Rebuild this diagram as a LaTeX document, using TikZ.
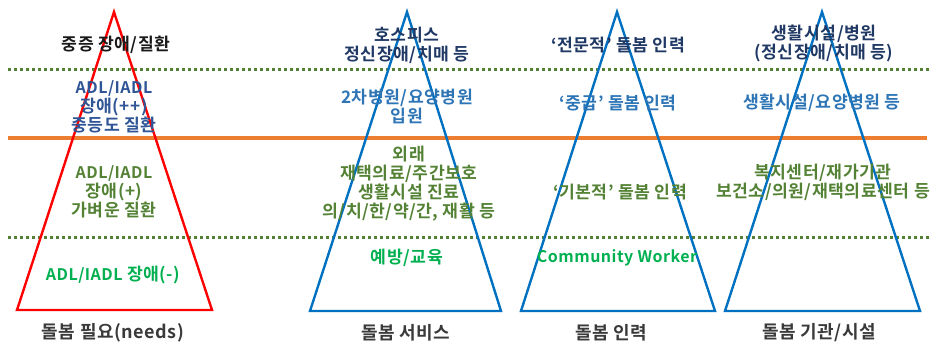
\documentclass[tikz,border=0pt]{standalone}
\usepackage{fontspec}
\setmainfont{Noto Sans CJK KR Bold}[LetterSpace=3]
\definecolor{navy}{HTML}{203864}
\definecolor{midblue}{HTML}{2E75B6}
\definecolor{adlblue}{HTML}{2F5597}
\definecolor{olive}{HTML}{548235}
\definecolor{brgreen}{HTML}{00B050}
\definecolor{tblue}{HTML}{0070C0}
\definecolor{orng}{HTML}{ED7D31}
\definecolor{lbl}{HTML}{3A3A3A}
\newcommand\latn[1]{{\fontsize{16}{19}\selectfont #1}}
\begin{document}
\begin{tikzpicture}[x=1pt,y=-1pt,
  txt/.style={font=\fontsize{17.2}{19}\selectfont, align=center, inner sep=0pt},
  dotline/.style={olive, line width=3pt, dash pattern=on 3pt off 3pt},
  sepline/.style={orng, line width=3.2pt},
  tri/.style={line width=2.4pt, line join=miter},
  foot/.style={txt, lbl, font=\fontsize{18}{20}\selectfont}]
\useasboundingbox (0,0) rectangle (935,349);
% horizontal lines
\coordinate (d1a) at (8,69); \coordinate (d1b) at (930,69);
\coordinate (d2a) at (8,237); \coordinate (d2b) at (930,237);
\coordinate (oa) at (8,138); \coordinate (ob) at (927,138);
\draw[dotline] (d1a) -- (d1b);
\draw[dotline] (d2a) -- (d2b);
\draw[sepline] (oa) -- (ob);
% triangles
\coordinate (t1a) at (114,12); \coordinate (t1l) at (17,310); \coordinate (t1r) at (212,310);
\coordinate (t2a) at (407,12); \coordinate (t2l) at (310,311); \coordinate (t2r) at (501,311);
\coordinate (t3a) at (617,12); \coordinate (t3l) at (521,311); \coordinate (t3r) at (715,311);
\coordinate (t4a) at (822,12); \coordinate (t4l) at (725,311); \coordinate (t4r) at (920,311);
\draw[tri, red] (t1a) -- (t1l) -- (t1r) -- cycle;
\draw[tri, tblue] (t2a) -- (t2l) -- (t2r) -- cycle;
\draw[tri, tblue] (t3a) -- (t3l) -- (t3r) -- cycle;
\draw[tri, tblue] (t4a) -- (t4l) -- (t4r) -- cycle;
% column 1
\node[txt, black!90] (c1a) at (116,45) {중증 장애/질환};
\node[txt, adlblue] (c1b) at (114,107) {\latn{ADL/IADL}\\장애(++)\\중등도 질환};
\node[txt, olive] (c1c) at (114,192) {\latn{ADL/IADL}\\장애(+)\\가벼운 질환};
\node[txt, brgreen] (c1d) at (113,275) {\latn{ADL/IADL} 장애(-)};
\node[foot] (f1) at (113,333) {돌봄 필요(needs)};
% column 2
\node[txt, navy] (c2a) at (407,45) {호스피스\\정신장애/치매 등};
\node[txt, midblue] (c2b) at (407,106) {2차병원/요양병원\\입원};
\node[txt, olive] (c2c) at (409,184) {외래\\재택의료/주간보호\\생활시설 진료\\의/치/한/약/간, 재활 등};
\node[txt, brgreen] (c2d) at (407,258) {예방/교육};
\node[foot] (f2) at (406,333) {돌봄 서비스};
% column 3
\node[txt, navy] (c3a) at (618,45) {‘전문적’ 돌봄 인력};
\node[txt, midblue] (c3b) at (618,103) {‘중급’ 돌봄 인력};
\node[txt, olive] (c3c) at (620,192) {‘기본적’ 돌봄 인력};
\node[txt, brgreen] (c3d) at (617,258) {\latn{Community Worker}};
\node[foot] (f3) at (611,333) {돌봄 인력};
% column 4
\node[txt, navy] (c4a) at (824,43) {생활시설/병원\\(정신장애/치매 등)};
\node[txt, midblue] (c4b) at (822,103) {생활시설/요양병원 등};
\node[txt, olive] (c4c) at (823,182) {복지센터/재가기관\\보건소/의원/재택의료센터 등};
\node[foot] (f4) at (819,333) {돌봄 기관/시설};
\end{tikzpicture}
\end{document}
